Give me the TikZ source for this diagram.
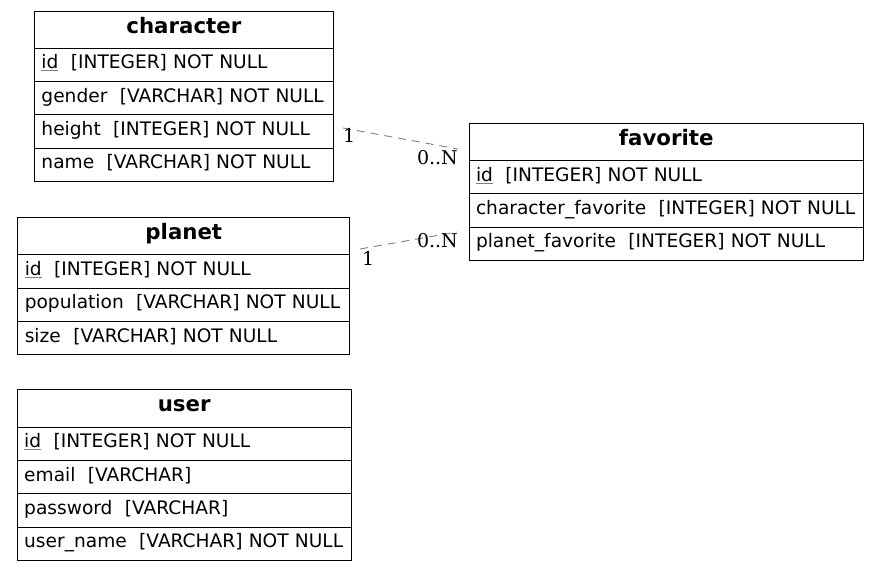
\documentclass[tikz,border=0pt]{standalone}
\usepackage{fontspec}
\setmainfont{DejaVu Sans}
\newfontfamily\lblfont{DejaVu Serif}
\definecolor{edgegray}{RGB}{128,128,128}
\newcommand\pkul[1]{{\color{gray}\underline{{\color{black}#1}}}}
\begin{document}
\begin{tikzpicture}[x=1pt,y=-1pt,
  tbl/.style={draw=black, line width=1pt, anchor=north west, inner xsep=7pt, inner ysep=0pt},
  hdr/.style={tbl, minimum height=37.6pt, text height=14pt, text depth=7pt, align=center, font=\fontsize{21.3}{25}\selectfont\bfseries},
  fld/.style={tbl, minimum height=33.3pt, text height=13pt, text depth=5pt, align=left, font=\fontsize{18.6}{22}\selectfont},
  rel/.style={draw=edgegray, line width=0.9pt, dash pattern=on 8pt off 6pt},
  card/.style={inner sep=0pt, font=\lblfont\fontsize{19}{22}\selectfont}
]
\useasboundingbox (0,0) rectangle (879,571);

% character
\node[hdr, text width=284.7pt] (ch) at (34,10.5) {character};
\node[fld, text width=284.7pt] (ch1) at (34,47.7) {\pkul{id}\ \ [INTEGER] NOT NULL};
\node[fld, text width=284.7pt] (ch2) at (34,81) {gender\ \ [VARCHAR] NOT NULL};
\node[fld, text width=284.7pt] (ch3) at (34,114.3) {height\ \ [INTEGER] NOT NULL};
\node[fld, text width=284.7pt] (ch4) at (34,147.6) {name\ \ [VARCHAR] NOT NULL};

% planet
\node[hdr, text width=318pt] (pl) at (17.3,216.7) {planet};
\node[fld, text width=318pt] (pl1) at (17.3,254.3) {\pkul{id}\ \ [INTEGER] NOT NULL};
\node[fld, text width=318pt] (pl2) at (17.3,287.6) {population\ \ [VARCHAR] NOT NULL};
\node[fld, text width=318pt] (pl3) at (17.3,320.9) {size\ \ [VARCHAR] NOT NULL};

% user
\node[hdr, text width=320pt] (us) at (16.7,389) {user};
\node[fld, text width=320pt] (us1) at (16.7,426.6) {\pkul{id}\ \ [INTEGER] NOT NULL};
\node[fld, text width=320pt] (us2) at (16.7,459.9) {email\ \ [VARCHAR]};
\node[fld, text width=320pt] (us3) at (16.7,493.2) {password\ \ [VARCHAR]};
\node[fld, text width=320pt] (us4) at (16.7,526.5) {user\_name\ \ [VARCHAR] NOT NULL};

% favorite
\node[hdr, text width=380.5pt] (fa) at (468.5,122.5) {favorite};
\node[fld, text width=380.5pt] (fa1) at (468.5,160) {\pkul{id}\ \ [INTEGER] NOT NULL};
\node[fld, text width=380.5pt] (fa2) at (468.5,193.3) {character\_favorite\ \ [INTEGER] NOT NULL};
\node[fld, text width=380.5pt] (fa3) at (468.5,226.6) {planet\_favorite\ \ [INTEGER] NOT NULL};

% relationships
\coordinate (r1s) at (343,128);
\coordinate (r1e) at (458,149);
\coordinate (r2s) at (360,249);
\coordinate (r2e) at (457,232);
\draw[rel] (r1s) -- (r1e);
\draw[rel] (r2s) -- (r2e);
\node[card, anchor=base west] (r1a) at (343,142) {1};
\node[card, anchor=base east] (r1b) at (458,164) {0..N};
\node[card, anchor=base west] (r2a) at (362,265) {1};
\node[card, anchor=base east] (r2b) at (458,247) {0..N};
\end{tikzpicture}
\end{document}
